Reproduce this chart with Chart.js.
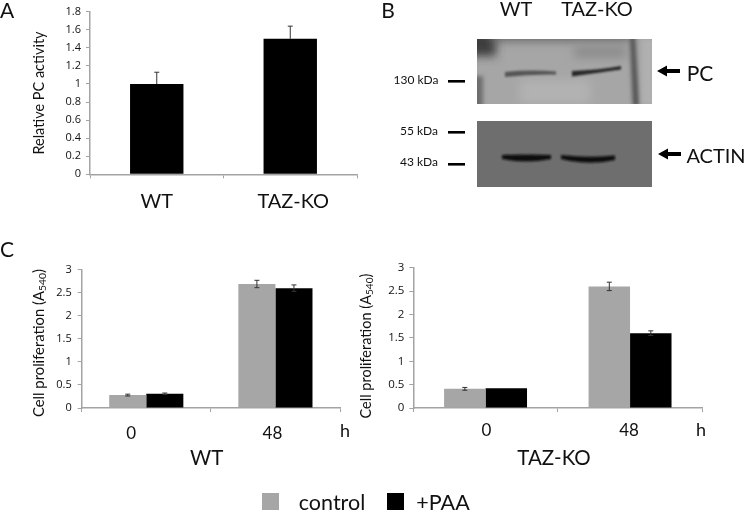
<!DOCTYPE html>
<html><head><meta charset="utf-8">
<script src="https://cdn.jsdelivr.net/npm/chart.js@4"></script>
<style>
html,body{margin:0;padding:0;background:#fff;width:745px;height:511px;overflow:hidden}
body{position:relative;font-family:Lato,"Open Sans",sans-serif;color:#111}
canvas{position:absolute}
.t{position:absolute;white-space:nowrap;line-height:1;transform:translate(-50%,-50%)}
.rot{transform:translate(-50%,-50%) rotate(-90deg)}
.rot sub{font-size:70%;vertical-align:-0.25em;line-height:0}
.sw{position:absolute;width:17px;height:17px}
svg{position:absolute;left:0;top:0}
</style></head><body>
<canvas id="a" style="left:0;top:0"></canvas>
<canvas id="c1" style="left:0;top:240px"></canvas>
<canvas id="c2" style="left:350px;top:240px"></canvas>

<svg width="745" height="511">
 <defs>
  <filter id="b1" filterUnits="userSpaceOnUse" x="440" y="20" width="240" height="190"><feGaussianBlur stdDeviation="1.2"/></filter>
  <filter id="b3" filterUnits="userSpaceOnUse" x="440" y="20" width="240" height="190"><feGaussianBlur stdDeviation="2.2"/></filter>
  <filter id="b4" filterUnits="userSpaceOnUse" x="440" y="20" width="240" height="190"><feGaussianBlur stdDeviation="5"/></filter>
  <clipPath id="p1"><rect x="477" y="39" width="175" height="65"/></clipPath>
  <clipPath id="p2"><rect x="477" y="121" width="175" height="66"/></clipPath>
 </defs>
 <g clip-path="url(#p1)">
  <rect x="477" y="39" width="175" height="65" fill="#a6a6a6"/>
  <rect x="466" y="30" width="30" height="26" fill="#3e3e3e" filter="url(#b4)"/>
  <rect x="490" y="30" width="140" height="11" fill="#666" filter="url(#b4)"/>
  <rect x="472" y="76" width="11" height="34" fill="#6e6e6e" filter="url(#b3)"/>
  <rect x="574" y="46" width="52" height="12" fill="#8c8c8c" filter="url(#b4)"/>
  <rect x="520" y="80" width="70" height="24" fill="#b2b2b2" filter="url(#b4)"/>
  <path d="M630 36 L635 36 L639 106 L633 106 Z" fill="#4e4e4e" filter="url(#b3)"/>
  <rect x="642" y="40" width="12" height="64" fill="#b0b0b0" filter="url(#b3)"/>
  <path d="M505 72 Q530 69.5 556 71.5 L556 74.5 Q530 74 505 77 Z" fill="#555" filter="url(#b1)"/>
  <path d="M572 71 Q600 70 621 66 L621 69.5 Q600 72.5 572 76.5 Z" fill="#262626" filter="url(#b1)"/>
 </g>
 <g clip-path="url(#p2)">
  <rect x="477" y="121" width="175" height="66" fill="#6e6e6e"/>
  <path d="M502 155 Q525 154 551 155 L551 159 Q525 164 502 159 Z" fill="#111" filter="url(#b1)"/>
  <path d="M561 155 Q590 158 615 155.5 L615 160 Q590 166 561 159 Z" fill="#111" filter="url(#b1)"/>
 </g>
 <g fill="#000">
  <rect x="448" y="80" width="17" height="2.6"/>
  <rect x="448" y="131" width="17" height="2.6"/>
  <rect x="448" y="163" width="17" height="2.6"/>
  <path d="M657 71 L667 65.5 L667 69 L680 69 L680 73 L667 73 L667 76.5 Z"/>
  <path d="M658 154 L668 148.5 L668 152 L681 152 L681 156 L668 156 L668 159.5 Z"/>
 </g>
</svg>

<div class="t" style="left:7px;top:9px;font-size:21px">A</div>
<div class="t" style="left:388px;top:9px;font-size:21px">B</div>
<div class="t" style="left:7px;top:248px;font-size:21px">C</div>
<div class="t" style="left:516px;top:8px;font-size:20px">WT</div>
<div class="t" style="left:597px;top:8px;font-size:20px">TAZ-KO</div>
<div class="t" style="left:416px;top:80px;font-size:12px">130 kDa</div>
<div class="t" style="left:419px;top:131px;font-size:12px">55 kDa</div>
<div class="t" style="left:419px;top:162px;font-size:12px">43 kDa</div>
<div class="t" style="left:700px;top:72px;font-size:21px">PC</div>
<div class="t" style="left:716px;top:155px;font-size:20px">ACTIN</div>
<div class="t rot" style="left:38px;top:343px;font-size:14.8px">Cell proliferation (A<sub>540</sub>)</div>
<div class="t rot" style="left:366px;top:346px;font-size:14.5px">Cell proliferation (A<sub>540</sub>)</div>
<div class="t" style="left:345px;top:430px;font-size:18px">h</div>
<div class="t" style="left:701px;top:429px;font-size:18px">h</div>
<div class="t" style="left:206.7px;top:457px;font-size:20.5px">WT</div>
<div class="t" style="left:554px;top:457px;font-size:20.5px">TAZ-KO</div>
<div id="legend"></div>

<script>
const panelACategories = ["WT", "TAZ-KO"];
const panelAValues = [1.0, 1.5];
const panelAErrors = [0.13, 0.14];
const panelAYTicks = [0, 0.2, 0.4, 0.6, 0.8, 1, 1.2, 1.4, 1.6, 1.8];

const hours = ["0", "48"];
const seriesNames = ["control", "+PAA"];
const wtControl = [0.28, 2.69];
const wtPaa = [0.31, 2.60];
const wtControlErr = [0.02, 0.08];
const wtPaaErr = [0.015, 0.07];
const kOControl = [0.41, 2.60];
const kOPaa = [0.42, 1.60];
const kOControlErr = [0.03, 0.09];
const kOPaaErr = [0.0, 0.05];
const cYTicks = [0, 0.5, 1, 1.5, 2, 2.5, 3];

const GRAY = "#a6a6a6", AXIS = "#a3a3a3", TXT = "#111";

// error bars resolved through the chart's own scales
const errorBars = {
  id: "errorBars",
  afterDatasetsDraw(chart, _a, opts) {
    const {ctx, scales: {y}} = chart;
    chart.data.datasets.forEach((ds, di) => {
      const meta = chart.getDatasetMeta(di);
      meta.data.forEach((bar, i) => {
        const v = ds.data[i], e = ds.errors[i];
        if (!e) return;
        const top = y.getPixelForValue(v + e);
        const bot = y.getPixelForValue(opts.upperOnly ? v : v - e);
        ctx.save();
        ctx.strokeStyle = opts.color; ctx.lineWidth = 1;
        ctx.beginPath();
        ctx.moveTo(bar.x, top); ctx.lineTo(bar.x, bot);
        ctx.moveTo(bar.x - opts.cap, top); ctx.lineTo(bar.x + opts.cap, top);
        if (!opts.upperOnly) { ctx.moveTo(bar.x - opts.cap, bot); ctx.lineTo(bar.x + opts.cap, bot); }
        ctx.stroke();
        ctx.restore();
      });
    });
  }
};

// category labels, hand-placed in the original figure: drawn from the chart's labels and x scale
const catLabels = {
  id: "catLabels",
  afterDraw(chart, _a, opts) {
    const {ctx, scales: {x}} = chart;
    ctx.save();
    ctx.font = `${opts.size}px Lato`; ctx.fillStyle = TXT;
    ctx.textAlign = "center"; ctx.textBaseline = "middle";
    chart.data.labels.forEach((lab, i) => {
      ctx.fillText(lab, x.getPixelForTick(i) + opts.nudge[i], opts.y);
    });
    ctx.restore();
  }
};

function make(id, cfg) {
  const el = document.getElementById(id);
  el.width = cfg.w; el.height = cfg.h;
  return new Chart(el, {
    type: "bar",
    data: {labels: cfg.labels, datasets: cfg.datasets},
    plugins: [errorBars, catLabels],
    options: {
      responsive: false, animation: false, devicePixelRatio: 1,
      layout: {padding: {top: cfg.top, right: cfg.right, left: 0, bottom: 0}},
      plugins: {legend: {display: false}, tooltip: {enabled: false},
                errorBars: {upperOnly: cfg.upperOnly, cap: cfg.cap, color: "#333"},
                catLabels: {size: cfg.xFont, y: cfg.xLabelY, nudge: cfg.nudge}},
      datasets: {bar: {categoryPercentage: cfg.groupPct, barPercentage: 1, borderSkipped: false}},
      scales: {
        x: {
          grid: {offset: true, drawOnChartArea: false, drawTicks: true, tickLength: 4, color: AXIS},
          border: {color: AXIS, width: 1.5},
          ticks: {display: false},
          afterFit(s) { s.height = cfg.axisH; }
        },
        y: {
          min: 0, max: cfg.max,
          afterBuildTicks(s) { s.ticks = cfg.yTicks.map(v => ({value: v})); },
          grid: {drawOnChartArea: false, drawTicks: true, tickLength: 4, color: AXIS},
          border: {color: AXIS, width: 1.5},
          ticks: {font: {family: "Open Sans", size: cfg.yFont}, color: TXT, padding: cfg.yPad,
                  callback: v => String(v)},
          title: cfg.yTitle ? {display: true, text: cfg.yTitle, color: TXT,
                  font: {family: "Lato", size: 14.5}, padding: {top: 31, bottom: 0}} : {display: false},
          afterFit(s) { s.width = cfg.axisW; }
        }
      }
    }
  });
}

make("a", {
  w: 360, h: 230, top: 11.7, right: 3, axisW: 90, axisH: 55.7, max: 1.8, yTicks: panelAYTicks,
  labels: panelACategories, groupPct: 0.4, upperOnly: true, cap: 2.5, xFont: 20, xLabelY: 202, nudge: [0, 3],
  yFont: 11, yPad: 5,
  yTitle: "Relative PC activity",
  datasets: [{data: panelAValues, errors: panelAErrors, backgroundColor: "#000"}]
});
make("c1", {
  w: 350, h: 235, top: 29.7, right: 10, axisW: 81.7, axisH: 67, max: 3, yTicks: cYTicks,
  labels: hours, groupPct: 0.574, upperOnly: false, cap: 2.5, xFont: 17, xLabelY: 194, nudge: [-15, -3],
  yFont: 11, yPad: 6,
  datasets: [
    {data: wtControl, errors: wtControlErr, backgroundColor: GRAY},
    {data: wtPaa, errors: wtPaaErr, backgroundColor: "#000"}
  ]
});
make("c2", {
  w: 395, h: 235, top: 27.7, right: 42.7, axisW: 63.3, axisH: 67, max: 3, yTicks: cYTicks,
  labels: hours, groupPct: 0.574, upperOnly: false, cap: 2.5, xFont: 17, xLabelY: 191, nudge: [1, -1],
  yFont: 11.5, yPad: 5,
  datasets: [
    {data: kOControl, errors: kOControlErr, backgroundColor: GRAY},
    {data: kOPaa, errors: kOPaaErr, backgroundColor: "#000"}
  ]
});

// shared legend
const lg = document.getElementById("legend");
[[262, 332, GRAY], [387, 443, "#000"]].forEach(([sx, tx, col], i) => {
  const s = document.createElement("div");
  s.className = "sw"; s.style.cssText = `left:${sx}px;top:493px;background:${col}`;
  const t = document.createElement("div");
  t.className = "t"; t.style.cssText = `left:${tx}px;top:503px;font-size:21.5px`;
  t.textContent = seriesNames[i];
  lg.append(s, t);
});
</script>
</body></html>
